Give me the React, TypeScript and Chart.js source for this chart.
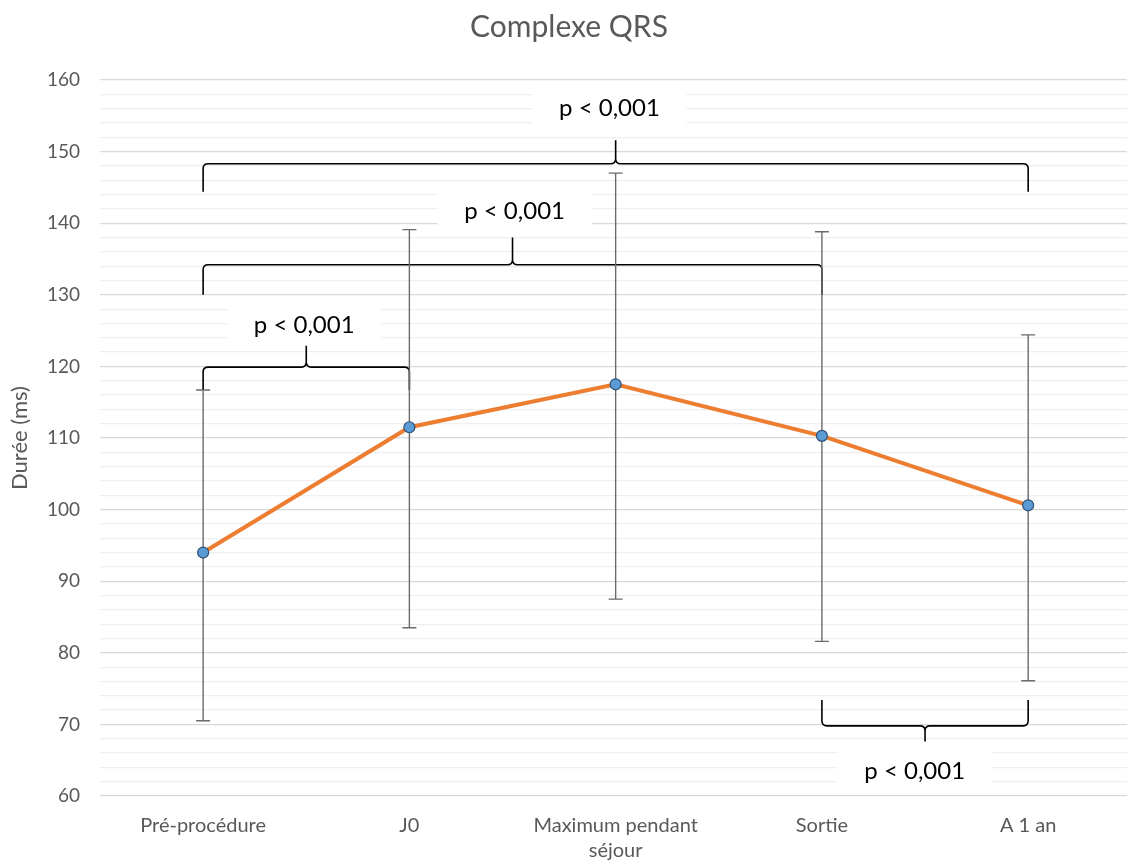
import React, { useEffect, useRef } from "react";
import { Chart, registerables } from "chart.js";

Chart.register(...registerables);

const categories: (string | string[])[] = [
  "Pré-procédure",
  "J0",
  ["Maximum pendant", "séjour"],
  "Sortie",
  "A 1 an",
];
const means = [94.0, 111.5, 117.5, 110.3, 100.6];
const errHigh = [116.7, 139.1, 147.0, 138.8, 124.4];
const errLow = [70.5, 83.5, 87.5, 81.6, 76.1];

// significance brackets: from/to category index, bar level, end level, tip level, label y, label x
const bracketFrom = [0, 0, 0, 3];
const bracketTo = [4, 3, 1, 4];
const bracketLevel = [148.3, 134.2, 119.9, 69.8];
const bracketEnd = [144.4, 130.0, 116.7, 73.4];
const bracketTip = [151.6, 138.0, 122.9, 67.6];
const bracketLabelY = [156.1, 141.7, 125.8, 63.5];
const bracketLabelX = [1.97, 1.51, 0.49, 3.45];
const bracketLabel = ["p < 0,001", "p < 0,001", "p < 0,001", "p < 0,001"];

const FONT = "Lato, 'Open Sans', sans-serif";

const overlayPlugin = {
  id: "overlay",
  beforeDatasetsDraw(chart: any) {
    const ctx = chart.ctx;
    const x = chart.scales.x;
    const y = chart.scales.y;
    ctx.save();
    // label boxes
    ctx.font = `24px ${FONT}`;
    ctx.textAlign = "center";
    ctx.textBaseline = "middle";
    for (let i = 0; i < bracketLabel.length; i++) {
      const cx = x.getPixelForValue(bracketLabelX[i]);
      const cy = y.getPixelForValue(bracketLabelY[i]);
      ctx.fillStyle = "#ffffff";
      ctx.fillRect(cx - 77, cy - 20, 154, 40);
      ctx.fillStyle = "#000000";
      ctx.fillText(bracketLabel[i], cx, cy);
    }
    // brackets
    ctx.strokeStyle = "#000000";
    ctx.lineWidth = 1.6;
    for (let i = 0; i < bracketFrom.length; i++) {
      const x1 = x.getPixelForValue(bracketFrom[i]);
      const x2 = x.getPixelForValue(bracketTo[i]);
      const xm = (x1 + x2) / 2;
      const yl = y.getPixelForValue(bracketLevel[i]);
      const ye = y.getPixelForValue(bracketEnd[i]);
      const yt = y.getPixelForValue(bracketTip[i]);
      const r = 5;
      const dir = yt < yl ? -1 : 1;
      ctx.beginPath();
      ctx.moveTo(x1, ye);
      ctx.lineTo(x1, yl - dir * r);
      ctx.quadraticCurveTo(x1, yl, x1 + r, yl);
      ctx.lineTo(xm - r, yl);
      ctx.quadraticCurveTo(xm, yl, xm, yl + dir * r);
      ctx.lineTo(xm, yt);
      ctx.moveTo(xm, yl + dir * r);
      ctx.quadraticCurveTo(xm, yl, xm + r, yl);
      ctx.lineTo(x2 - r, yl);
      ctx.quadraticCurveTo(x2, yl, x2, yl - dir * r);
      ctx.lineTo(x2, ye);
      ctx.stroke();
    }
    // error bars
    ctx.strokeStyle = "#6b6b6b";
    ctx.lineWidth = 1.4;
    for (let i = 0; i < means.length; i++) {
      const px = x.getPixelForValue(i);
      const hi = y.getPixelForValue(errHigh[i]);
      const lo = y.getPixelForValue(errLow[i]);
      ctx.beginPath();
      ctx.moveTo(px, hi);
      ctx.lineTo(px, lo);
      ctx.moveTo(px - 7, hi);
      ctx.lineTo(px + 7, hi);
      ctx.moveTo(px - 7, lo);
      ctx.lineTo(px + 7, lo);
      ctx.stroke();
    }
    ctx.restore();
  },
};

export default function App() {
  const ref = useRef<HTMLCanvasElement>(null);
  useEffect(() => {
    document.body.style.margin = "0";
    document.body.style.overflow = "hidden";
    const chart = new Chart(ref.current!, {
      type: "line",
      data: {
        labels: categories,
        datasets: [
          {
            data: means,
            borderColor: "#ED7D31",
            borderWidth: 4,
            pointBackgroundColor: "#5B9BD5",
            pointBorderColor: "#2f4f73",
            pointBorderWidth: 1.2,
            pointRadius: 5.5,
            tension: 0,
          },
        ],
      },
      options: {
        animation: false,
        responsive: false,
        layout: { padding: { top: 9, left: 0, right: 0, bottom: 0 } },
        plugins: {
          legend: { display: false },
          tooltip: { enabled: false },
          title: {
            display: true,
            text: "Complexe QRS",
            color: "#595959",
            font: { family: FONT, size: 30, weight: "normal", lineHeight: 1.2 },
            padding: { top: 0, bottom: 35 },
          },
        },
        scales: {
          x: {
            type: "category",
            offset: true,
            grid: { display: false, drawTicks: false },
            border: { display: false },
            ticks: {
              color: "#595959",
              font: { family: FONT, size: 20, lineHeight: 1.25 },
              padding: 17,
              maxRotation: 0,
              autoSkip: false,
            },
            afterFit(scale: any) {
              scale.height = 67;
            },
          },
          y: {
            min: 60,
            max: 160,
            border: { display: false },
            grid: {
              drawTicks: false,
              color: (c: any) => (c.tick && c.tick.value % 10 === 0 ? "#d9d9d9" : "#efefef"),
              lineWidth: 1.2,
            },
            ticks: {
              stepSize: 2,
              autoSkip: false,
              color: "#595959",
              font: { family: FONT, size: 19 },
              padding: 20,
              callback: (v: any) => (Number(v) % 10 === 0 ? String(v) : ""),
            },
            title: {
              display: true,
              text: "Durée (ms)",
              color: "#595959",
              font: { family: FONT, size: 22 },
              padding: { top: 7, bottom: 0 },
            },
            afterFit(scale: any) {
              scale.width = 100;
            },
          },
        },
      },
      plugins: [overlayPlugin],
    });
    return () => chart.destroy();
  }, []);
  return (
    <div style={{ position: "absolute", left: 0, top: 0, width: 1138, height: 863 }}>
      <canvas ref={ref} width={1138} height={863} style={{ display: "block" }} />
    </div>
  );
}
